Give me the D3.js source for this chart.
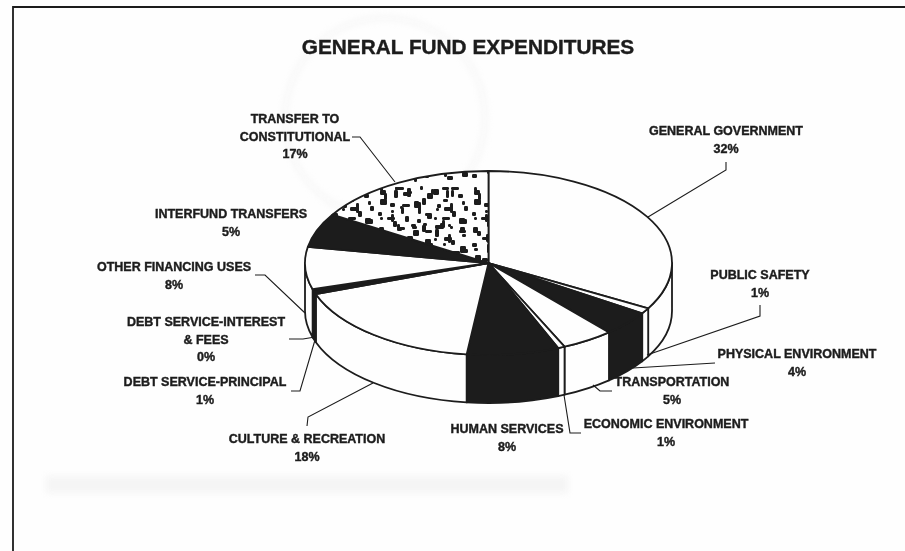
<!DOCTYPE html>
<html>
<head>
<meta charset="utf-8">
<script src="https://cdn.jsdelivr.net/npm/d3@7"></script>
<style>
html, body { margin: 0; padding: 0; background: #fefefe; overflow: hidden; }
svg { display: block; filter: blur(0.45px); }
text { font-family: "Liberation Sans", Arial, sans-serif; font-weight: bold; fill: #1c1c1c; stroke: #1c1c1c; stroke-width: 0.4px; }
</style>
</head>
<body>
<svg id="chart" width="905" height="551"></svg>
<script>
var categories = ["GENERAL GOVERNMENT", "PUBLIC SAFETY", "PHYSICAL ENVIRONMENT", "TRANSPORTATION",
  "ECONOMIC ENVIRONMENT", "HUMAN SERVICES", "CULTURE & RECREATION", "DEBT SERVICE-PRINCIPAL",
  "DEBT SERVICE-INTEREST", "OTHER FINANCING USES", "INTERFUND TRANSFERS", "TRANSFER TO"];
// wedge sizes as drawn in the picture, they differ a little from the printed labels
var drawnShares = [33.2, 1.0, 4.4, 4.6, 0.6, 8.1, 17.6, 0.8, 0.1, 7.4, 6.0, 16.2];
var percentLabels = ["32%", "1%", "4%", "5%", "1%", "8%", "18%", "1%", "0%", "8%", "5%", "17%"];
var sliceFills = ["white", "white", "black", "white", "white", "black", "white", "black", "black", "white", "black", "speckle"];

var svg = d3.select("#chart");
var ink = "#1c1c1c";

var cx = 488.5, cy = 263, rx = 183.5, ry = 92, depth = 48;

// Faint show-through from the scanned page ------------------------
var ghost = svg.append("g").style("filter", "blur(3px)");
ghost.append("circle")
  .attr("cx", 385).attr("cy", 118).attr("r", 100)
  .attr("fill", "none").attr("stroke", "#f7f7f7").attr("stroke-width", 5);
ghost.append("rect")
  .attr("x", 46).attr("y", 476).attr("width", 522).attr("height", 17)
  .attr("fill", "#f5f5f5");

// Frame, the scan only shows the top and left sides ---------------
svg.append("path")
  .attr("d", d3.line()([[905, 7], [13, 7], [13, 551]]))
  .attr("fill", "none").attr("stroke", ink).attr("stroke-width", 1.8);

// Title
svg.append("text")
  .attr("x", 468).attr("y", 54)
  .attr("text-anchor", "middle")
  .style("font-size", "20.8px")
  .text("GENERAL FUND EXPENDITURES");

// Speckle pattern for the last slice ------------------------------
var blobs = [[4,6,6,5],[8,9,3,7],[19,3,3,3],[27,8,8,4],[31,4,4,9],[44,2,3,4],[51,9,6,6],[55,5,3,5],[66,3,7,3],[70,6,3,8],
  [82,10,5,4],[14,19,5,4],[24,22,3,3],[38,18,7,6],[42,22,3,8],[61,20,4,4],[68,23,9,4],[74,19,3,10],[88,22,4,5],
  [2,28,4,4],[11,33,8,3],[15,30,3,8],[29,32,4,6],[49,29,6,3],[58,33,3,3],[83,34,6,6],[35,40,5,3],[3,43,5,6],
  [22,44,4,3],[46,41,4,7],[49,46,7,3],[64,39,5,5],[74,42,3,3],[12,53,7,3],[16,50,3,8],[31,52,6,6],[58,54,3,3],
  [68,53,8,4],[72,50,3,9],[86,50,4,3],[4,64,4,3],[24,62,3,5],[41,61,7,4],[52,64,4,5],[84,62,6,7],[12,74,6,4],
  [31,71,3,3],[37,76,6,5],[62,70,7,3],[65,67,3,8],[76,73,3,3],[2,82,5,4],[21,83,7,3],[25,80,3,8],[49,82,4,4],
  [71,84,6,4],[87,80,3,3]];

var pattern = svg.append("defs").append("pattern")
  .attr("id", "speckle")
  .attr("patternUnits", "userSpaceOnUse")
  .attr("width", 94).attr("height", 92);
pattern.append("rect").attr("width", 94).attr("height", 92).attr("fill", "#fefefe");
pattern.selectAll("rect.blob")
  .data(blobs)
  .enter().append("rect")
  .attr("class", "blob")
  .attr("x", function (d) { return d[0]; })
  .attr("y", function (d) { return d[1]; })
  .attr("width", function (d) { return d[2]; })
  .attr("height", function (d) { return d[3]; })
  .attr("rx", 1.2)
  .attr("fill", ink);
// same blobs mirrored and shifted, the scan is denser than one layer
pattern.selectAll("rect.blob2")
  .data(blobs)
  .enter().append("rect")
  .attr("class", "blob2")
  .attr("x", function (d) { return 94 - d[0] - d[2]; })
  .attr("y", function (d) { return (d[1] + 37) % 84; })
  .attr("width", function (d) { return d[3]; })
  .attr("height", function (d) { return d[2]; })
  .attr("rx", 1.2)
  .attr("fill", ink);

// Pie -------------------------------------------------------------
var pie = d3.pie().sort(null).value(function (d) { return d; });
var arcs = pie(drawnShares);

function px(a) { return cx + rx * Math.sin(a); }
function py(a, drop) { return cy - ry * Math.cos(a) + (drop || 0); }

function fillOf(i) {
  if (sliceFills[i] === "black") return ink;
  if (sliceFills[i] === "speckle") return "url(#speckle)";
  return "#fefefe";
}

function rimPath(a0, a1, drop) {
  var big = a1 - a0 > Math.PI ? 1 : 0;
  return "A" + rx + "," + ry + " 0 " + big + " 1 " + px(a1) + "," + py(a1, drop);
}

// Side wall: only the part of the rim that faces the viewer
var walls = svg.append("g");
arcs.forEach(function (d, i) {
  var a0 = Math.max(d.startAngle, Math.PI / 2);
  var a1 = Math.min(d.endAngle, Math.PI * 1.5);
  if (a1 <= a0) return;
  walls.append("path")
    .attr("d", "M" + px(a0) + "," + py(a0) + rimPath(a0, a1, 0) +
      "L" + px(a1) + "," + py(a1, depth) +
      "A" + rx + "," + ry + " 0 0 0 " + px(a0) + "," + py(a0, depth) + "Z")
    .attr("fill", fillOf(i))
    .attr("stroke", ink)
    .attr("stroke-width", 1.8)
    .attr("stroke-linejoin", "round");
});

// Top face
var tops = svg.append("g");
arcs.forEach(function (d, i) {
  tops.append("path")
    .attr("d", "M" + cx + "," + cy + "L" + px(d.startAngle) + "," + py(d.startAngle) +
      rimPath(d.startAngle, d.endAngle, 0) + "Z")
    .attr("fill", fillOf(i))
    .attr("stroke", ink)
    .attr("stroke-width", 1.8)
    .attr("stroke-linejoin", "round");
});

// Labels ----------------------------------------------------------
var labelLines = [
  { x: 726, y: 135, lines: [categories[0], percentLabels[0]] },
  { x: 760, y: 279, lines: [categories[1], percentLabels[1]] },
  { x: 797, y: 358, lines: [categories[2], percentLabels[2]] },
  { x: 672, y: 386, lines: [categories[3], percentLabels[3]] },
  { x: 666, y: 428, lines: [categories[4], percentLabels[4]] },
  { x: 507, y: 433, lines: [categories[5], percentLabels[5]] },
  { x: 307, y: 443, lines: [categories[6], percentLabels[6]] },
  { x: 205, y: 386, lines: [categories[7], percentLabels[7]] },
  { x: 206, y: 326, lines: [categories[8], "& FEES", percentLabels[8]] },
  { x: 174, y: 271, lines: [categories[9], percentLabels[9]] },
  { x: 231, y: 218, lines: [categories[10], percentLabels[10]] },
  { x: 295, y: 123, lines: [categories[11], "CONSTITUTIONAL", percentLabels[11]] }
];

var labels = svg.append("g");
labelLines.forEach(function (l) {
  var t = labels.append("text")
    .attr("text-anchor", "middle")
    .style("font-size", "12.5px");
  l.lines.forEach(function (s, k) {
    t.append("tspan")
      .attr("x", l.x)
      .attr("y", l.y + k * 17.7)
      .text(s);
  });
});

// Leader lines
var leaders = [
  [[726, 162], [726, 170], [648, 217]],
  [[760, 305], [760, 316], [647, 355]],
  [[715, 363], [633, 368]],
  [[612, 391], [600, 391], [593, 385]],
  [[581, 433], [570, 433], [564, 395]],
  [[373, 383], [308, 417], [307, 426]],
  [[291, 391], [300, 391], [315, 340]],
  [[289, 339], [303, 339], [315, 337]],
  [[255, 275], [265, 275], [305, 313]],
  [[352, 137], [360, 137], [395, 182]]
];

svg.append("g").selectAll("path")
  .data(leaders)
  .enter().append("path")
  .attr("d", d3.line())
  .attr("fill", "none")
  .attr("stroke", ink)
  .attr("stroke-width", 1.1);
</script>
</body>
</html>
